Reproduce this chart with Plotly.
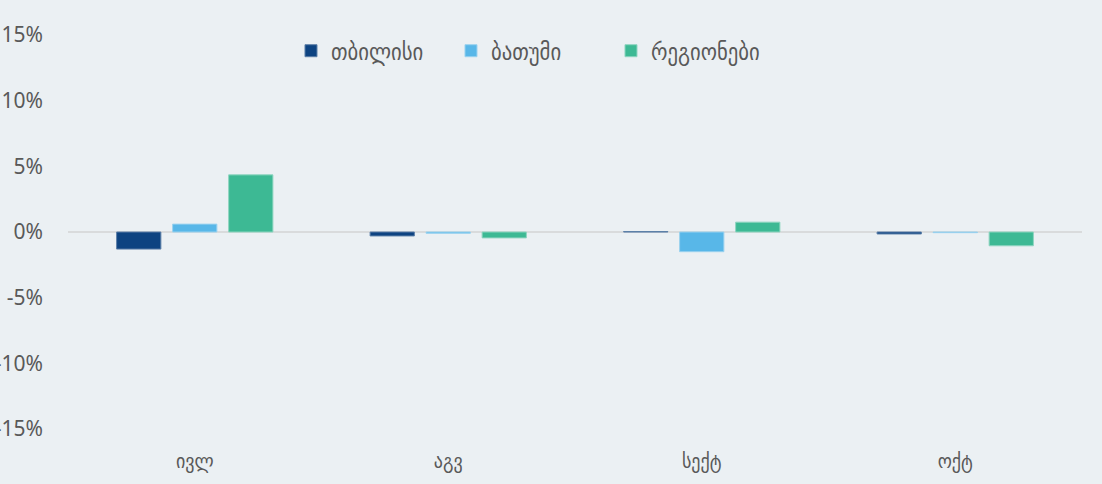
import plotly.graph_objects as go

categories = ["ივლ", "აგვ", "სექტ", "ოქტ"]
series_names = ["თბილისი", "ბათუმი", "რეგიონები"]
tbilisi = [-1.3, -0.3, 0.03, -0.15]
batumi = [0.6, -0.1, -1.5, -0.05]
regions = [4.35, -0.45, 0.75, -1.05]
y_ticks = [-15, -10, -5, 0, 5, 10, 15]
y_tick_labels = ["-15%", "-10%", "-5%", "0%", "5%", "10%", "15%"]

colors = ["#0D4381", "#58B7E8", "#3DB994"]
line_colors = ["#5C7FA8", "#9AD2EF", "#8ED5C0"]

fig = go.Figure()
for name, vals, c, lc in zip(series_names, [tbilisi, batumi, regions], colors, line_colors):
    fig.add_trace(go.Bar(
        x=categories, y=vals, name=name,
        marker=dict(color=c, line=dict(color=lc, width=1)),
    ))

fig.update_layout(
    width=1102, height=484,
    barmode="group", bargap=0.337, bargroupgap=0.21,
    paper_bgcolor="#EBF0F3", plot_bgcolor="#EBF0F3",
    margin=dict(l=68, r=20, t=35, b=55, autoexpand=False),
    font=dict(family="DejaVu Sans Condensed, DejaVu Sans, sans-serif", color="#595959", size=20),
    legend=dict(orientation="h", x=0.4566, xanchor="center", y=0.96, yanchor="middle",
                font=dict(size=23, color="#595959"), itemwidth=30,
                entrywidth=115, entrywidthmode="pixels",
                bgcolor="rgba(0,0,0,0)"),
    showlegend=True,
)
fig.update_xaxes(showgrid=False, showline=False, ticks="", automargin=False,
                 ticklabelstandoff=18, tickfont=dict(size=20, color="#595959"))
fig.update_yaxes(range=[-15, 15], tickvals=y_ticks, ticktext=y_tick_labels,
                 showgrid=False, zeroline=True, zerolinecolor="#D9DBDC", zerolinewidth=2,
                 showline=False, ticks="", ticklabelstandoff=24, automargin=False,
                 tickfont=dict(family="Noto Sans", size=21, color="#595959"))

fig.write_html("out.html", config={"displayModeBar": False},
               post_script="document.body.style.margin='0';document.body.style.background='#EBF0F3';")
